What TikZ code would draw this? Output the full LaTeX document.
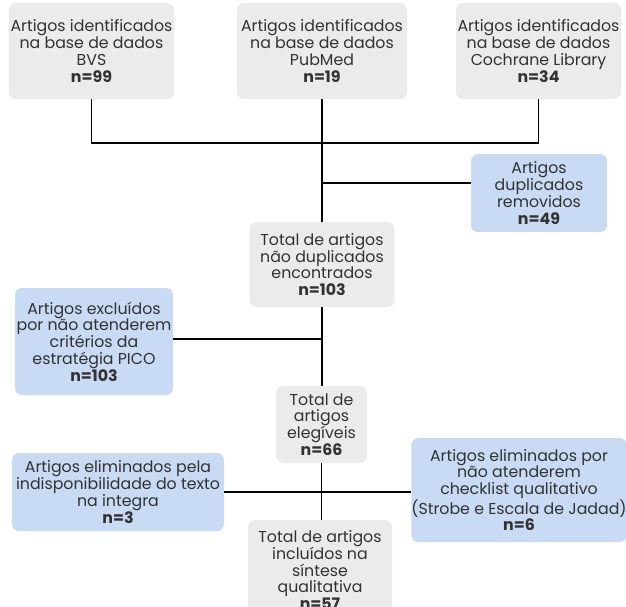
\documentclass[tikz,border=0pt]{standalone}
\usepackage{fontspec}
\setmainfont{Poppins}
\usepackage{tikz}
\usetikzlibrary{calc, positioning}

\definecolor{boxgray}{RGB}{235,235,235}
\definecolor{boxblue}{RGB}{201,218,244}
\definecolor{txtgray}{RGB}{50,50,50}

\begin{document}
\begin{tikzpicture}[x=1pt, y=-1pt,
        box/.style={rounded corners=7pt, align=center, inner sep=0pt, text=txtgray,
                    font=\fontsize{15.8}{16.7}\selectfont},
        graybox/.style={box, fill=boxgray},
        bluebox/.style={box, fill=boxblue},
        link/.style={line width=1.6pt, black}]
                            \useasboundingbox (0, 0) rectangle (626, 607);
                            \clip (0, 0) rectangle (626, 607);

                            \node[graybox, minimum width=165, minimum height=96] (bvs) at (91.5, 51) {Artigos identificados\\na base de dados\\BVS\\\textbf{n=99}};
                            \node[graybox, minimum width=170, minimum height=96] (pubmed) at (322, 51) {Artigos identificados\\na base de dados\\PubMed\\\textbf{n=19}};
                            \node[graybox, minimum width=165, minimum height=96] (cochrane) at (538.5, 51) {Artigos identificados\\na base de dados\\Cochrane Library\\\textbf{n=34}};

                            \node[bluebox, minimum width=136, minimum height=78] (dup) at (539, 193) {Artigos\\duplicados\\removidos\\\textbf{n=49}};
                            \node[graybox, minimum width=145, minimum height=85] (naodup) at (322, 264.5) {Total de artigos\\não duplicados\\encontrados\\\textbf{n=103}};
                            \node[bluebox, minimum width=158, minimum height=107] (pico) at (94, 341.5) {Artigos excluídos\\por não atenderem\\critérios da\\estratégia PICO\\\textbf{n=103}};

                            \node[graybox, minimum width=91, minimum height=77] (eleg) at (321.5, 424.5) {Total de\\artigos\\elegíveis\\\textbf{n=66}};
                            \node[bluebox, minimum width=212, minimum height=78] (integra) at (118, 492) {Artigos eliminados pela\\indisponibilidade do texto\\na integra\\\textbf{n=3}};
                            \node[bluebox, minimum width=214, minimum height=104] (checklist) at (519, 490) {Artigos eliminados por\\não atenderem\\checklist qualitativo\\(Strobe e Escala de Jadad)\\\textbf{n=6}};
                            \node[graybox, minimum width=144, minimum height=100, anchor=north] (incl) at (320, 520) {Total de artigos\\incluídos na\\síntese\\qualitativa\\\textbf{n=57}};

                            \coordinate (jtop) at (322, 143);
                            \coordinate (jdup) at (322, 183);

                            \draw[link] (bvs.south) |- (jtop) -| (cochrane.south);
                            \draw[link] (pubmed.south) -- (naodup.north);
                            \draw[link] (jdup) -- (jdup -| dup.west);
                            \draw[link] (naodup.south) -- (naodup.south |- eleg.north);
                            \draw[link] ($(pico.east) + (0, -2.5)$) -- ($(pico.east -| naodup.south) + (0, -2.5)$);
                            \draw[link] (eleg.south) -- (eleg.south |- incl.north);
                            \draw[link] (integra.east) -- (integra.east -| checklist.west);
                        \end{tikzpicture}
\end{document}
